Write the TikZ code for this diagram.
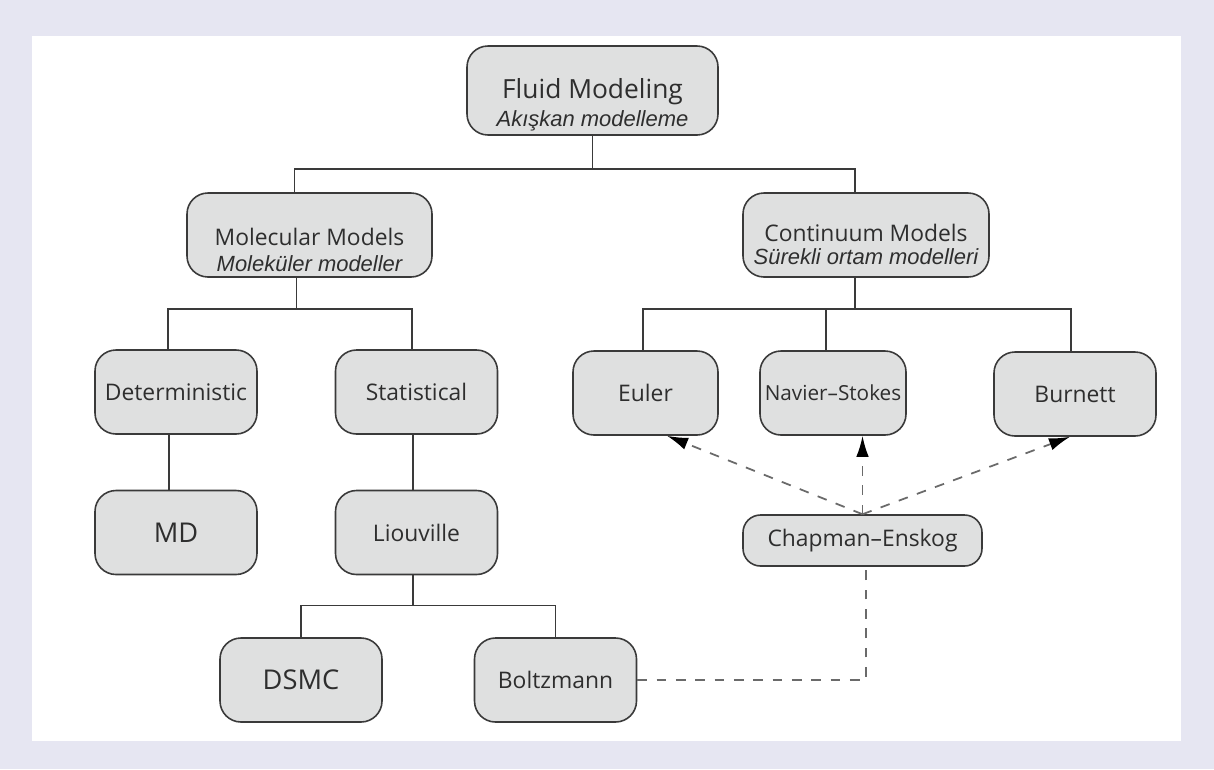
\documentclass[tikz,border=0pt]{standalone}
\usepackage{fontspec}
\setmainfont{Open Sans}
\newfontfamily\trfont{Liberation Sans}
\usetikzlibrary{arrows.meta}

\begin{document}
\begin{tikzpicture}

% Colours
\definecolor{bgLav}{HTML}{E6E6F2}
\definecolor{boxFill}{HTML}{DFE0E0}
\definecolor{boxLine}{HTML}{3A3A3A}
\definecolor{txtGray}{HTML}{2E2E2E}
\definecolor{dashGray}{HTML}{6A6A6A}

% Turkish subtitle line
\def\turk#1{{\trfont\itshape\fontsize{12.5}{14}\selectfont #1}}

\tikzset{
  box/.style={draw=boxLine, fill=boxFill, line width=0.9pt, rounded corners=0.42cm,
    minimum width=3.24cm, minimum height=1.68cm, inner sep=2pt, text=txtGray,
    font=\fontsize{13}{15}\selectfont},
  twoline/.style={box, align=center, minimum width=4.9cm, inner ysep=0pt},
  link/.style={draw=boxLine, line width=0.85pt},
  dashlink/.style={draw=dashGray, line width=1pt, dash pattern=on 5.5pt off 5.5pt},
  arrowlink/.style={dashlink, -{Latex[length=4.2mm,width=2.5mm,color=black]}}
}

% Frame
\useasboundingbox (0,0) rectangle (24.28,-15.38);
\fill[bgLav] (0,0) rectangle (24.28,-15.38);
\fill[white] (0.64,-0.72) rectangle (23.62,-14.82);

% Boxes
\node[twoline, minimum width=5.02cm, minimum height=1.78cm, text height=45pt, text depth=3.6pt] (fluid) at (11.85,-1.81)
  {{\fontsize{15}{17}\selectfont Fluid Modeling}\\[1pt]\turk{Akışkan modelleme}};
\node[twoline, text height=44pt, text depth=2.3pt] (mol) at (6.19,-4.70)
  {Molecular Models\\[0pt]\turk{Moleküler modeller}};
\node[twoline, minimum width=4.92cm, text height=36pt, text depth=2.6pt] (cont) at (17.32,-4.70)
  {Continuum Models\\[-2pt]\turk{Sürekli ortam modelleri}};

\node[box] (det) at (3.52,-7.84) {Deterministic};
\node[box] (stat) at (8.33,-7.84) {Statistical};
\node[box, font=\fontsize{15.5}{17}\selectfont] (md) at (3.52,-10.65) {MD};
\node[box] (liou) at (8.33,-10.65) {Liouville};
\node[box, font=\fontsize{15.5}{17}\selectfont] (dsmc) at (6.02,-13.6) {DSMC};
\node[box] (boltz) at (11.11,-13.6) {Boltzmann};

\node[box, minimum width=2.9cm] (euler) at (12.91,-7.86) {Euler};
\node[box, minimum width=2.92cm, font=\fontsize{11.8}{14}\selectfont] (nav) at (16.66,-7.86) {Navier--Stokes};
\node[box] (burn) at (21.5,-7.88) {Burnett};
\node[box, minimum width=4.78cm, minimum height=1.02cm, rounded corners=0.35cm] (chap) at (17.25,-10.81) {Chapman--Enskog};

% Tree lines
\draw[link] (fluid.south) -- ++(0,-0.66) coordinate (busA);
\draw[link] ([xshift=-0.3cm]mol.north) |- (busA) -| ([xshift=-0.22cm]cont.north);

\draw[link] ([xshift=-0.26cm]mol.south) -- ++(0,-0.62) coordinate (busB);
\draw[link] ([xshift=-0.16cm]det.north) |- (busB) -| ([xshift=-0.09cm]stat.north);
\draw[link] ([xshift=-0.14cm]det.south) -- ([xshift=-0.14cm]md.north);
\draw[link] ([xshift=-0.07cm]stat.south) -- ([xshift=-0.07cm]liou.north);
\draw[link] ([xshift=-0.07cm]liou.south) -- ++(0,-0.6) coordinate (busC);
\draw[link] (dsmc.north) |- (busC) -| (boltz.north);

\draw[link] ([xshift=-0.22cm]cont.south) -- ++(0,-0.62) coordinate (busD);
\draw[link] ([xshift=-0.05cm]euler.north) |- (busD) -| ([xshift=-0.08cm]burn.north);
\draw[link] ([xshift=-0.14cm]nav.north) -- ([xshift=-0.14cm]nav.north |- busD);

% Dashed links
\draw[dashlink] (boltz.east) -| ([xshift=0.07cm]chap.south);
\draw[arrowlink] (chap.north) -- ([xshift=0.43cm]euler.south);
\draw[arrowlink] (chap.north) -- (chap.north |- nav.south);
\draw[arrowlink] (chap.north) -- ([xshift=-0.1cm]burn.south);

\end{tikzpicture}
\end{document}
